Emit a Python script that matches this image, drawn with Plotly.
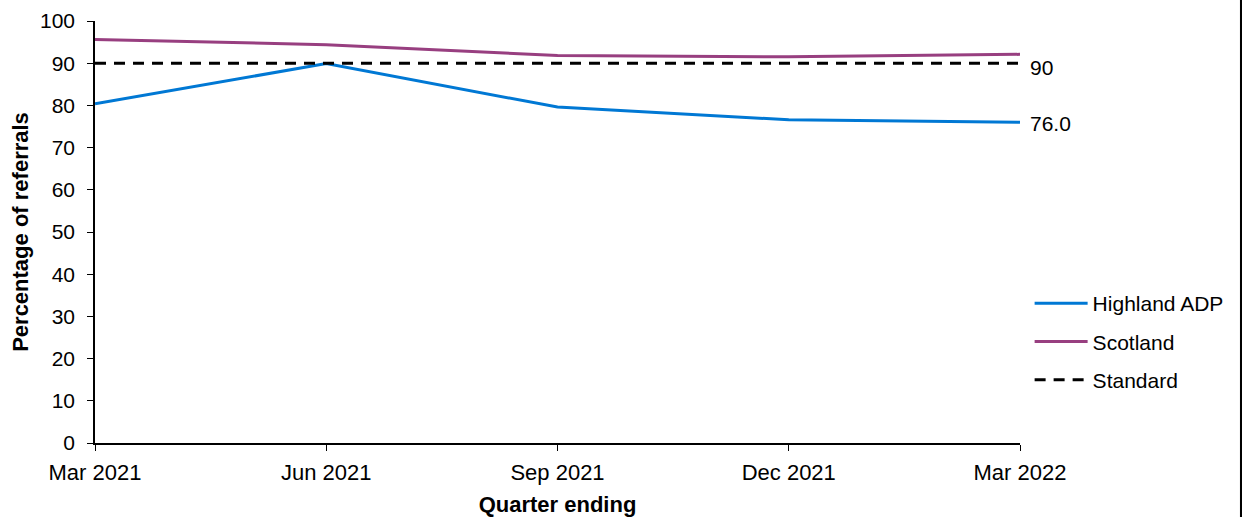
import plotly.graph_objects as go

quarters = ["Mar 2021", "Jun 2021", "Sep 2021", "Dec 2021", "Mar 2022"]
highland = [80.4, 89.9, 79.6, 76.6, 76.0]
scotland = [95.6, 94.4, 91.8, 91.5, 92.1]
standard = [90, 90, 90, 90, 90]

FONT = "Arial, Liberation Sans, sans-serif"
BLUE = "#0078D4"
PURPLE = "#983F80"

fig = go.Figure()
fig.add_trace(go.Scatter(x=quarters, y=highland, mode="lines", name="Highland ADP",
                         line=dict(color=BLUE, width=3), legendgroup="a"))
fig.add_trace(go.Scatter(x=quarters, y=scotland, mode="lines", name="Scotland",
                         line=dict(color=PURPLE, width=3), legendgroup="b"))
fig.add_trace(go.Scatter(x=quarters, y=standard, mode="lines", name="Standard",
                         line=dict(color="black", width=3, dash="11px,8px"), legendgroup="c"))

fig.add_annotation(x=quarters[-1], y=standard[-1], text=f"{standard[-1]:.0f}", showarrow=False,
                   xanchor="left", yanchor="middle", xshift=8, yshift=-4,
                   font=dict(family=FONT, size=21, color="black"))
fig.add_annotation(x=quarters[-1], y=highland[-1], text=f"{highland[-1]:.1f}", showarrow=False,
                   xanchor="left", yanchor="middle", xshift=8, yshift=-1,
                   font=dict(family=FONT, size=21, color="black"))

# right border bar
fig.add_shape(type="rect", xref="paper", yref="paper", x0=1.2378, x1=1.26, y0=-0.2, y1=1.1,
              fillcolor="black", line=dict(width=0), layer="above")

fig.update_layout(
    width=1242, height=517,
    margin=dict(l=95, r=222, t=21, b=74),
    paper_bgcolor="white", plot_bgcolor="white",
    font=dict(family=FONT, size=21, color="black"),
    showlegend=True,
    legend=dict(x=1.0104, xanchor="left", y=0.379, yanchor="top",
                font=dict(family=FONT, size=21, color="black"),
                tracegroupgap=8, traceorder="grouped",
                bgcolor="rgba(0,0,0,0)", itemwidth=53),
    xaxis=dict(type="category", range=[0, 4], showgrid=False, zeroline=False,
               showline=True, linecolor="black", linewidth=1.5,
               ticks="outside", ticklen=6, tickcolor="black", tickwidth=1,
               tickfont=dict(family=FONT, size=22, color="black"),
               ticklabelstandoff=3, automargin=False,
               title=dict(text="<b>Quarter ending</b>", font=dict(family=FONT, size=22), standoff=14)),
    yaxis=dict(range=[0, 100], dtick=10, showgrid=False, zeroline=False,
               showline=True, linecolor="black", linewidth=1.5,
               ticks="outside", ticklen=6, tickcolor="black", tickwidth=1,
               tickfont=dict(family=FONT, size=21, color="black"),
               ticklabelstandoff=8, automargin=False,
               title=dict(text="<b>Percentage of referrals</b>", font=dict(family=FONT, size=22), standoff=5)),
)

fig.write_html("out.html")
